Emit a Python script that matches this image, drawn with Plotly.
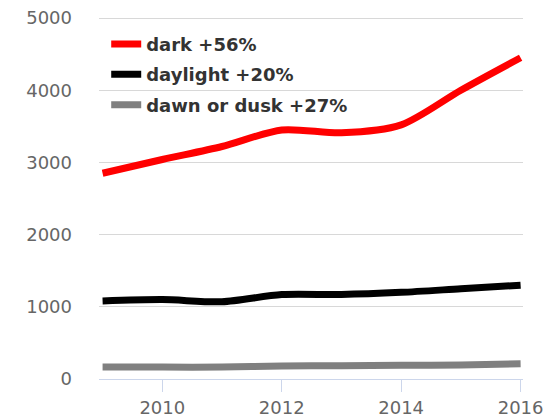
import plotly.graph_objects as go

# data
years = [2009, 2010, 2011, 2012, 2013, 2014, 2015, 2016]
dark = [2850, 3040, 3220, 3450, 3410, 3520, 4000, 4450]
daylight = [1080, 1100, 1070, 1170, 1170, 1200, 1250, 1300]
dawn_dusk = [165, 165, 165, 180, 185, 190, 195, 210]

series = [
    ("dark +56%", dark, "#ff0000"),
    ("daylight +20%", daylight, "#000000"),
    ("dawn or dusk +27%", dawn_dusk, "#808080"),
]

fig = go.Figure()
for i, (name, values, color) in enumerate(series):
    fig.add_trace(go.Scatter(
        x=years,
        y=values,
        mode="lines",
        name=name,
        legendgroup=str(i),
        line=dict(color=color, width=7, shape="spline", smoothing=0.8),
        hoverinfo="x+y",
    ))

# page body has an 8px margin, so the figure is sized to end at the window edge
fig.update_layout(
    width=544,
    height=409,
    margin=dict(l=91, r=29, t=9, b=38),
    plot_bgcolor="white",
    paper_bgcolor="white",
    font=dict(family="DejaVu Sans", color="#666666", size=18),
    showlegend=True,
    legend=dict(
        x=0.017,
        y=0.976,
        xanchor="left",
        yanchor="top",
        bgcolor="rgba(0,0,0,0)",
        font=dict(family="DejaVu Sans", size=18, color="#333333", weight="bold"),
        tracegroupgap=4,
        itemwidth=30,
    ),
)

fig.update_xaxes(
    range=[2008.94, 2016.04],
    tickvals=[2010, 2012, 2014, 2016],
    ticktext=["2010", "2012", "2014", "2016"],
    showgrid=False,
    zeroline=False,
    showline=True,
    linecolor="#ccd6eb",
    linewidth=1,
    ticks="outside",
    ticklen=12,
    tickcolor="#ccd6eb",
    tickfont=dict(size=18, color="#666666"),
    ticklabeloverflow="allow",
    automargin=False,
)

fig.update_yaxes(
    range=[0, 5014],
    tickvals=[0, 1000, 2000, 3000, 4000, 5000],
    showgrid=True,
    gridcolor="#d8d8d8",
    gridwidth=1,
    zeroline=False,
    showline=False,
    ticks="",
    ticklabelstandoff=26,
    tickfont=dict(size=18, color="#666666"),
    ticklabeloverflow="allow",
    automargin=False,
)

fig.write_html("out.html")
